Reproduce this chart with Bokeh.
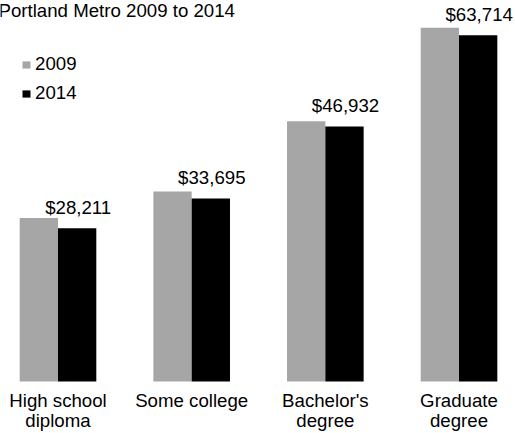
from bokeh.plotting import figure
from bokeh.models import Range1d, Legend, LegendItem, Label, ColumnDataSource
from bokeh.core.properties import value
from bokeh.embed import file_html
from bokeh.resources import INLINE

categories = ["High school\ndiploma", "Some college", "Bachelor's\ndegree", "Graduate\ndegree"]
earnings_2009 = [30100, 34950, 47900, 65100]
earnings_2014 = [28211, 33695, 46932, 63714]
value_labels = ["$28,211", "$33,695", "$46,932", "$63,714"]
series_names = ["2009", "2014"]
title_text = "Portland Metro 2009 to 2014"

FONT = "Liberation Sans"
FS = "18.67px"
GRAY = "#A6A6A6"
BLACK = "#000000"

idx = list(range(len(categories)))
bar_w = 0.2866
x09 = [i - bar_w / 2 for i in idx]
x14 = [i + bar_w / 2 for i in idx]

src = ColumnDataSource(dict(idx=idx, cat=categories, v09=earnings_2009, v14=earnings_2014,
                            x09=x09, x14=x14, lab=value_labels, zero=[0] * len(idx)))

W, H = 515, 433
p = figure(width=W, height=H, output_backend="svg", toolbar_location=None,
           x_range=Range1d(-0.4302, -0.4302 + W / 133.67),
           y_range=Range1d(-52 * 184.0, 381 * 184.0),
           min_border=0, tools="")
p.styles = {"position": "absolute", "left": "0px", "top": "0px"}
p.axis.visible = False
p.grid.visible = False
p.outline_line_color = None
p.background_fill_color = "white"
p.border_fill_color = "white"

r09 = p.vbar(x="x09", top="v09", bottom=0, width=bar_w, source=src,
             fill_color=GRAY, line_color=None)
r14 = p.vbar(x="x14", top="v14", bottom=0, width=bar_w, source=src,
             fill_color=BLACK, line_color=None)

p.text(x="x14", y="v14", text="lab", source=src, text_align="center",
       text_baseline="alphabetic", y_offset=-20.5, x_offset=1,
       text_font=value(FONT), text_font_size=FS, text_color="#000000")

p.text(x="idx", y="zero", text="cat", source=src, text_align="center",
       text_baseline="top", y_offset=8, text_line_height=0.98,
       text_font=value(FONT), text_font_size=FS, text_color="#000000")

legend = Legend(items=[LegendItem(label=series_names[0], renderers=[r09]),
                       LegendItem(label=series_names[1], renderers=[r14])],
                location=(21, 329), orientation="vertical",
                glyph_width=10, glyph_height=9, label_height=9,
                label_standoff=4, spacing=7, padding=0, margin=0,
                border_line_color=None, background_fill_alpha=0,
                label_text_font=FONT, label_text_font_size=FS,
                label_text_color="#000000")
p.add_layout(legend)

title = Label(x=-2, y=H - 9.5, x_units="screen", y_units="screen", text=title_text,
              text_font=FONT, text_font_size=FS, text_color="#000000",
              text_baseline="alphabetic")
p.add_layout(title)

open("out.html", "w").write(file_html(p, INLINE))
